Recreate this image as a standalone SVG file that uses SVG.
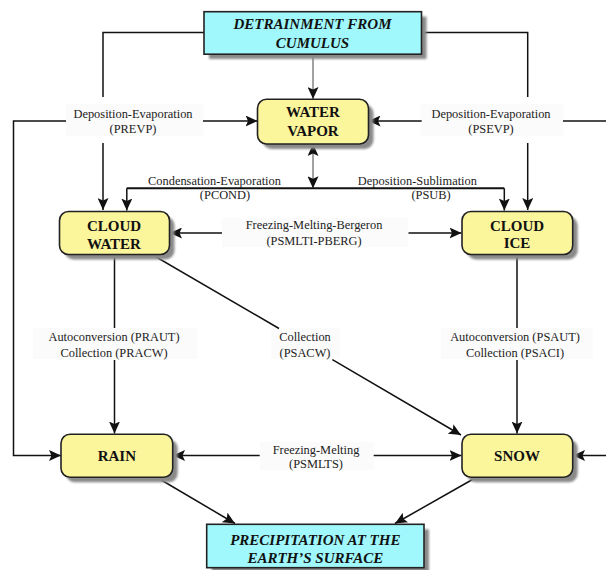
<svg xmlns="http://www.w3.org/2000/svg" width="606" height="570" viewBox="0 0 606 570">
  <style>
    .proc { fill: #fbf59c; stroke: #222; stroke-width: 1.6; }
    .bound { fill: #a0f8fc; stroke: #222; stroke-width: 1.6; }
    .shadow { fill: #8a8a8a; filter: url(#soft); }
    text { font-family: 'Liberation Serif', 'DejaVu Serif', serif; }
    .ntext { font-size: 15px; font-weight: bold; fill: #111; text-anchor: middle; }
    .ital { font-style: italic; }
    .ltext { font-size: 12.4px; fill: #222; text-anchor: middle; }
    .lbg { fill: #fbfbfb; }
    .wire { fill: none; stroke: #111; stroke-width: 1.5; }
    .thick { stroke-width: 2; }
    .thin { stroke: #444; stroke-width: 1; }
  </style>
  <defs>
    <filter id="soft" x="-10%" y="-20%" width="120%" height="140%">
      <feGaussianBlur stdDeviation="0.8"/>
    </filter>
    <marker id="arrow" markerUnits="userSpaceOnUse" markerWidth="12" markerHeight="11" refX="12" refY="5.5" orient="auto-start-reverse">
      <path d="M0,0 L12,5.5 L0,11 L2.5,5.5 Z" fill="#111"/>
    </marker>
  </defs>

  <rect width="606" height="570" fill="#ffffff"/>

  <!-- label backgrounds -->
  <g id="label-backgrounds">
    <rect class="lbg" x="66" y="104" width="137" height="32"/>
    <rect class="lbg" x="421" y="104" width="142" height="32"/>
    <rect class="lbg" x="222" y="218" width="186" height="29"/>
    <rect class="lbg" x="33" y="328" width="164" height="31"/>
    <rect class="lbg" x="441" y="328" width="152" height="31"/>
    <rect class="lbg" x="271" y="328" width="69" height="31"/>
    <rect class="lbg" x="260" y="442" width="114" height="28"/>
  </g>

  <!-- connectors -->
  <g id="connectors">
    <!-- detrainment feeds -->
    <path class="wire" d="M204,32.5 H103 V97 M103,143 V210" marker-end="url(#arrow)"/>
    <path class="wire" d="M421,32.5 H527.7 V97 M527.7,143 V210" marker-end="url(#arrow)"/>
    <path class="wire thin" d="M313,54 V99" marker-end="url(#arrow)"/>
    <!-- PREVP -->
    <path class="wire" d="M66,121 H13.5 V455.5 H61" marker-end="url(#arrow)"/>
    <path class="wire" d="M203,121 H257.5" marker-end="url(#arrow)"/>
    <!-- PSEVP -->
    <path class="wire" d="M606,121 H563"/>
    <path class="wire" d="M421.7,121 H368.5" marker-end="url(#arrow)"/>
    <!-- PCOND / PSUB -->
    <path class="wire thin" d="M313,144 V188.3" marker-start="url(#arrow)" marker-end="url(#arrow)"/>
    <path class="wire thick" d="M126.8,188.3 H504.3"/>
    <path class="wire" d="M126.8,188.3 V210.5" marker-end="url(#arrow)"/>
    <path class="wire" d="M504.3,188.3 V210.5" marker-end="url(#arrow)"/>
    <!-- PSMLTI-PBERG -->
    <path class="wire" d="M222,233 H170" marker-end="url(#arrow)"/>
    <path class="wire" d="M408.5,233 H461.5" marker-end="url(#arrow)"/>
    <!-- PRAUT / PRACW -->
    <path class="wire" d="M114.5,254.5 V328 M114.5,360 V433.5" marker-end="url(#arrow)"/>
    <!-- PSAUT / PSACI -->
    <path class="wire" d="M517,254.5 V328 M517,360 V433.5" marker-end="url(#arrow)"/>
    <!-- PSACW -->
    <path class="wire" d="M152,254.5 L279,328.5 M332.4,359.7 L461,435" marker-end="url(#arrow)"/>
    <!-- PSMLTS -->
    <path class="wire" d="M259.7,455.5 H173" marker-end="url(#arrow)"/>
    <path class="wire" d="M373.7,455.5 H461.5" marker-end="url(#arrow)"/>
    <path class="wire" d="M606,455.5 H573" marker-end="url(#arrow)"/>
    <!-- fallout -->
    <path class="wire" d="M157,477.5 L235,523.5" marker-end="url(#arrow)"/>
    <path class="wire" d="M476,477.5 L395,523.5" marker-end="url(#arrow)"/>
  </g>

  <!-- connector labels -->
  <g id="labels">
    <text class="ltext" x="133" y="118">Deposition-Evaporation</text>
    <text class="ltext" x="133" y="132.5">(PREVP)</text>
    <text class="ltext" x="491" y="118">Deposition-Evaporation</text>
    <text class="ltext" x="491" y="132.5">(PSEVP)</text>
    <text class="ltext" x="214.5" y="185">Condensation-Evaporation</text>
    <text class="ltext" x="225" y="199">(PCOND)</text>
    <text class="ltext" x="417.4" y="185">Deposition-Sublimation</text>
    <text class="ltext" x="431" y="199">(PSUB)</text>
    <text class="ltext" x="314" y="229">Freezing-Melting-Bergeron</text>
    <text class="ltext" x="314" y="245">(PSMLTI-PBERG)</text>
    <text class="ltext" x="114" y="341">Autoconversion (PRAUT)</text>
    <text class="ltext" x="114" y="356.5">Collection (PRACW)</text>
    <text class="ltext" x="515" y="341">Autoconversion (PSAUT)</text>
    <text class="ltext" x="515" y="356.5">Collection (PSACI)</text>
    <text class="ltext" x="305" y="341">Collection</text>
    <text class="ltext" x="305" y="357">(PSACW)</text>
    <text class="ltext" x="316" y="453.5">Freezing-Melting</text>
    <text class="ltext" x="316" y="467.5">(PSMLTS)</text>
  </g>

  <!-- nodes -->
  <g id="detrainment">
    <rect class="shadow" x="209" y="16.5" width="217.5" height="42.5"/>
    <rect class="bound" x="204" y="11.7" width="217.5" height="42.5"/>
    <text class="ntext ital" x="312.5" y="29">DETRAINMENT FROM</text>
    <text class="ntext ital" x="312.5" y="48">CUMULUS</text>
  </g>
  <g id="water-vapor">
    <rect class="shadow" x="262.5" y="104.3" width="111" height="44.7" rx="9"/>
    <rect class="proc" x="257.5" y="99.3" width="111" height="44.7" rx="9"/>
    <text class="ntext" x="313" y="117">WATER</text>
    <text class="ntext" x="313" y="136">VAPOR</text>
  </g>
  <g id="cloud-water">
    <rect class="shadow" x="64.5" y="216.5" width="110" height="43" rx="9"/>
    <rect class="proc" x="59.5" y="211.5" width="110" height="43" rx="9"/>
    <text class="ntext" x="114" y="231">CLOUD</text>
    <text class="ntext" x="114" y="249">WATER</text>
  </g>
  <g id="cloud-ice">
    <rect class="shadow" x="467" y="216.5" width="110.7" height="43" rx="9"/>
    <rect class="proc" x="462" y="211.5" width="110.7" height="43" rx="9"/>
    <text class="ntext" x="517" y="230.5">CLOUD</text>
    <text class="ntext" x="517" y="248">ICE</text>
  </g>
  <g id="rain">
    <rect class="shadow" x="66" y="439.3" width="111.7" height="43" rx="9"/>
    <rect class="proc" x="61" y="434.3" width="111.7" height="43" rx="9"/>
    <text class="ntext" x="116.8" y="461">RAIN</text>
  </g>
  <g id="snow">
    <rect class="shadow" x="467" y="439.3" width="110.7" height="43" rx="9"/>
    <rect class="proc" x="462" y="434.3" width="110.7" height="43" rx="9"/>
    <text class="ntext" x="517" y="461">SNOW</text>
  </g>
  <g id="precipitation">
    <rect class="shadow" x="211.7" y="529.3" width="217.3" height="43.4"/>
    <rect class="bound" x="206.7" y="524.3" width="217.3" height="43.4"/>
    <text class="ntext ital" x="315.3" y="544.5">PRECIPITATION AT THE</text>
    <text class="ntext ital" x="315.3" y="562.5">EARTH’S SURFACE</text>
  </g>
</svg>
